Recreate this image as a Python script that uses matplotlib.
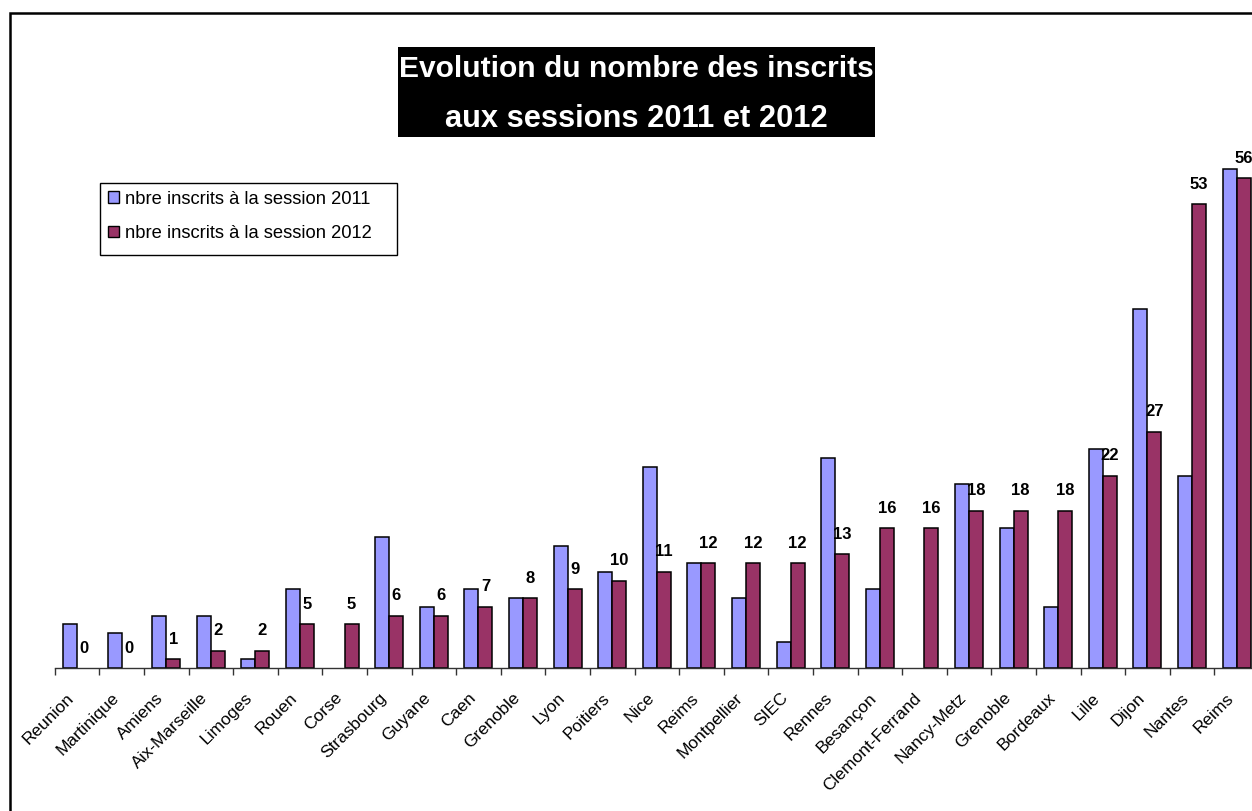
import matplotlib
matplotlib.use('Agg')
import matplotlib.pyplot as plt
from matplotlib.patches import Rectangle, Patch
import numpy as np

# academies, sorted by 2012 count
academies = ["Reunion", "Martinique", "Amiens", "Aix-Marseille", "Limoges", "Rouen",
             "Corse", "Strasbourg", "Guyane", "Caen", "Grenoble", "Lyon", "Poitiers",
             "Nice", "Reims", "Montpellier", "SIEC", "Rennes", "Besançon",
             "Clemont-Ferrand", "Nancy-Metz", "Grenoble", "Bordeaux", "Lille",
             "Dijon", "Nantes", "Reims"]
inscrits_2011 = [5, 4, 6, 6, 1, 9, 0, 15, 7, 9, 8, 14, 11, 23, 12, 8, 3, 24, 9,
                 0, 21, 16, 7, 25, 41, 22, 57]
inscrits_2012 = [0, 0, 1, 2, 2, 5, 5, 6, 6, 7, 8, 9, 10, 11, 12, 12, 12, 13, 16,
                 16, 18, 18, 18, 22, 27, 53, 56]
series_names = ["nbre inscrits à la session 2011", "nbre inscrits à la session 2012"]
title_lines = ["Evolution du nombre des inscrits", "aux sessions 2011 et 2012"]

col_2011 = '#9999FF'
col_2012 = '#993366'

W, H = 1252, 811
fig = plt.figure(figsize=(W / 100, H / 100), dpi=100)
plt.rcParams['font.family'] = ['Liberation Sans', 'DejaVu Sans']

def fx(px):
    return px / W

def fy(py):
    return 1 - py / H

# plot area (extends slightly past the right edge like the original)
left, right, top, base = 54.7, 1259.0, 143.0, 668.0
ax = fig.add_axes([fx(left), fy(base), fx(right - left), (base - top) / H])

x = np.arange(len(academies))
bw = 0.314
lw11 = [1.1 if v > 0 else 0 for v in inscrits_2011]
lw12 = [1.1 if v > 0 else 0 for v in inscrits_2012]
ax.bar(x - bw / 2, inscrits_2011, bw, color=col_2011, edgecolor='black', linewidth=lw11)
ax.bar(x + bw / 2, inscrits_2012, bw, color=col_2012, edgecolor='black', linewidth=lw12)

for xi, v in zip(x, inscrits_2012):
    ax.annotate(str(v), (xi + bw / 2, v), xytext=(0, 11), textcoords='offset points',
                ha='center', va='baseline', fontsize=12, fontweight='bold')

ax.set_xlim(-0.5, len(academies) - 0.5)
ax.set_ylim(0, 60)
for s in ['left', 'right', 'top']:
    ax.spines[s].set_visible(False)
ax.spines['bottom'].set_color('#333333')
ax.spines['bottom'].set_linewidth(1.0)
ax.set_yticks([])
ax.set_xticks(x)
ax.set_xticklabels(academies, rotation=45, ha='right', va='top', fontsize=12.5)
ax.tick_params(axis='x', which='major', length=0, pad=16)
ax.set_xticks(np.arange(-0.5, len(academies), 1.0), minor=True)
ax.tick_params(axis='x', which='minor', length=5, color='#333333', width=1.0)
ax.patch.set_alpha(0)

# title box
fig.patches.append(Rectangle((fx(398), fy(137)), fx(875 - 398), (137 - 47) / H,
                             transform=fig.transFigure, facecolor='black',
                             edgecolor='none', zorder=0))
fig.text(fx(636), fy(77), title_lines[0], color='white', fontsize=21.6, fontweight='bold',
         ha='center', va='baseline')
fig.text(fx(636), fy(127), title_lines[1], color='white', fontsize=22.2, fontweight='bold',
         ha='center', va='baseline')

# legend
fig.patches.append(Rectangle((fx(100), fy(255)), fx(397 - 100), (255 - 182.7) / H,
                             transform=fig.transFigure, facecolor='white',
                             edgecolor='black', linewidth=1.0, zorder=1))
handles = [Patch(facecolor=col_2011, edgecolor='black', linewidth=1.0),
           Patch(facecolor=col_2012, edgecolor='black', linewidth=1.0)]
leg = fig.legend(handles, series_names, loc='upper left',
                 bbox_to_anchor=(fx(102), fy(185)), borderaxespad=0,
                 fontsize=13.2, frameon=False,
                 handlelength=0.6, handleheight=0.6, handletextpad=0.35,
                 labelspacing=0.95, borderpad=0.3)
leg.set_zorder(2)

# outer chart frame (only top and left edges visible in the crop)
fig.patches.append(Rectangle((fx(10), -0.1), 1.2, fy(13) + 0.1,
                             transform=fig.transFigure, facecolor='none',
                             edgecolor='black', linewidth=1.8, zorder=5))

fig.savefig('out.png', dpi=100)
